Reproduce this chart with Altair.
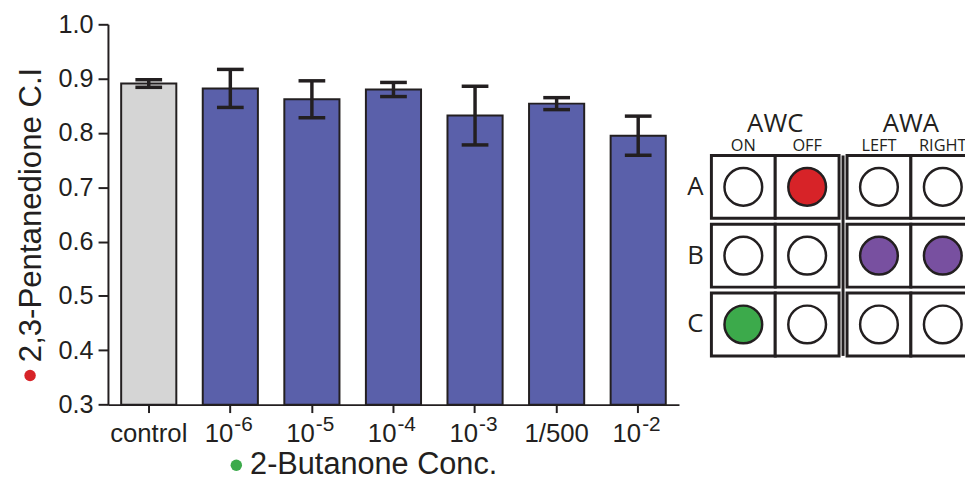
import altair as alt
import pandas as pd

# ---------------- data ----------------
categories = ["control", "10^-6", "10^-5", "10^-4", "10^-3", "1/500", "10^-2"]
label_base = ["control", "10", "10", "10", "10", "1/500", "10"]
label_sup = ["", "-6", "-5", "-4", "-3", "", "-2"]
group_kind = ["control", "odor", "odor", "odor", "odor", "odor", "odor"]
mean_ci = [0.891, 0.882, 0.862, 0.880, 0.832, 0.854, 0.795]
err_ci = [0.007, 0.035, 0.034, 0.013, 0.054, 0.011, 0.036]
y_ticks = [0.3, 0.4, 0.5, 0.6, 0.7, 0.8, 0.9, 1.0]

rows = ["A", "B", "C"]
cols = ["ON", "OFF", "LEFT", "RIGHT"]
neurons = ["AWC", "AWA"]
cell_state = [
    ["none", "red", "none", "none"],
    ["none", "none", "purple", "purple"],
    ["green", "none", "none", "none"],
]

# ---------------- style ----------------
ink = "#231f20"
palette = {"none": "#ffffff", "red": "#d72328", "purple": "#7850a0", "green": "#3caa4b"}
bar_gray = "#d5d5d5"
bar_blue = "#5a60aa"
sans = "Liberation Sans"
panel_font = "Open Sans"

df = pd.DataFrame({
    "cat": categories,
    "base": label_base,
    "sup": label_sup,
    "kind": group_kind,
    "mean": mean_ci,
    "err": err_ci,
})
df["lo"] = df["mean"] - df["err"]
df["hi"] = df["mean"] + df["err"]

W, H = 577, 384.3

x_enc = alt.X(
    "cat:N", sort=categories,
    scale=alt.Scale(paddingInner=0.324, paddingOuter=0.162),
    axis=alt.Axis(
        labels=False, ticks=True, tickSize=8, tickWidth=2, tickColor=ink,
        domainColor=ink, domainWidth=2,
        title="2-Butanone Conc.", titleFont=sans, titleFontSize=31,
        titleFontWeight="normal", titleColor=ink, titleX=268, titleY=70,
        titleAlign="center", titleBaseline="alphabetic",
    ),
)
y_scale = alt.Scale(domain=[0.3, 1.0], nice=False, zero=False)

base = alt.Chart(df)

bars = base.mark_bar(stroke=ink, strokeWidth=2).encode(
    x=x_enc,
    y=alt.Y(
        "mean:Q", scale=y_scale,
        axis=alt.Axis(
            values=y_ticks, format=".1f", labelFont=sans, labelFontSize=25.5,
            labelColor=ink, labelPadding=5, tickSize=10, tickWidth=2, tickColor=ink,
            domainColor=ink, domainWidth=2, grid=False,
            title="2,3-Pentanedione C.I", titleFont=sans, titleFontSize=31.5,
            titleFontWeight="normal", titleColor=ink, titlePadding=11,
        ),
    ),
    y2=alt.datum(0.3),
    color=alt.Color("kind:N", scale=alt.Scale(domain=["control", "odor"], range=[bar_gray, bar_blue]), legend=None),
)

err_line = base.mark_rule(color=ink, strokeWidth=3.5).encode(
    x=alt.X("cat:N", sort=categories), y=alt.Y("lo:Q", scale=y_scale), y2="hi:Q"
)
cap_lo = base.mark_tick(color=ink, size=27, thickness=3.5, opacity=1).encode(
    x=alt.X("cat:N", sort=categories), y=alt.Y("lo:Q", scale=y_scale)
)
cap_hi = base.mark_tick(color=ink, size=27, thickness=3.5, opacity=1).encode(
    x=alt.X("cat:N", sort=categories), y=alt.Y("hi:Q", scale=y_scale)
)

lab_plain = base.transform_filter("datum.sup == ''").mark_text(
    font=sans, fontSize=26, color=ink, align="center", baseline="alphabetic"
).encode(x=alt.X("cat:N", sort=categories), y=alt.value(421.6), text="base:N")
lab_ten = base.transform_filter("datum.sup != ''").mark_text(
    font=sans, fontSize=26, color=ink, align="right", baseline="alphabetic", dx=3
).encode(x=alt.X("cat:N", sort=categories), y=alt.value(421.6), text="base:N")
lab_sup = base.transform_filter("datum.sup != ''").mark_text(
    font=sans, fontSize=21, color=ink, align="left", baseline="alphabetic", dx=4
).encode(x=alt.X("cat:N", sort=categories), y=alt.value(410.6), text="sup:N")

one = alt.Chart(pd.DataFrame({"k": [0]}))
red_dot = one.mark_circle(color=palette["red"], size=133, opacity=1).encode(
    x=alt.value(-78.7), y=alt.value(354.8)
)
green_dot = one.mark_circle(color=palette["green"], size=133, opacity=1).encode(
    x=alt.value(129.7), y=alt.value(445.5)
)

left = alt.layer(
    bars, err_line, cap_lo, cap_hi, lab_plain, lab_ten, lab_sup, red_dot, green_dot
).properties(width=W, height=H)

# ---------------- schematic panel ----------------
gap = 0.125       # extra space between the AWC and AWA boxes, in cell units
half_h = 0.457    # half cell height in row units
cells = []
for r, rname in enumerate(rows):
    for c, cname in enumerate(cols):
        xc = c + gap * (c // 2)
        cells.append({
            "row": rname, "col": cname, "xc": xc, "yc": r,
            "x1": xc - 0.5, "x2": xc + 0.5, "y1": r - half_h, "y2": r + half_h,
            "fill": palette[cell_state[r][c]],
        })
cells = pd.DataFrame(cells)

PW = 283
px_per_x = 64.5
px_per_y = 69.5
x0 = -(749 - 690) / px_per_x
y0 = -(187 - 22.7) / px_per_y
sx = alt.Scale(domain=[x0, x0 + PW / px_per_x], nice=False, zero=False)
sy = alt.Scale(domain=[y0, y0 + H / px_per_y], nice=False, zero=False, reverse=True)

cbase = alt.Chart(cells)
rects = cbase.mark_rect(fill="#ffffff", stroke=ink, strokeWidth=3, clip=True).encode(
    x=alt.X("x1:Q", scale=sx, axis=None), x2="x2:Q",
    y=alt.Y("y1:Q", scale=sy, axis=None), y2="y2:Q",
)
dots = cbase.mark_point(shape="circle", filled=True, size=1452, stroke=ink,
                        strokeWidth=2.5, opacity=1, clip=True).encode(
    x=alt.X("xc:Q", scale=sx, axis=None),
    y=alt.Y("yc:Q", scale=sy, axis=None),
    fill=alt.Fill("fill:N", scale=None),
)
sep = alt.Chart(pd.DataFrame({"xs": [1.5 + gap / 2], "ya": [-half_h], "yb": [len(rows) - 1 + half_h]})).mark_rule(
    color=ink, strokeWidth=3
).encode(x=alt.X("xs:Q", scale=sx, axis=None), y=alt.Y("ya:Q", scale=sy, axis=None), y2="yb:Q")

row_lab = alt.Chart(pd.DataFrame({"t": rows, "yc": list(range(len(rows))), "xl": [-0.75] * len(rows)})).mark_text(
    font=panel_font, fontSize=26, color=ink, align="center", baseline="middle"
).encode(x=alt.X("xl:Q", scale=sx, axis=None), y=alt.Y("yc:Q", scale=sy, axis=None), text="t:N")

col_lab = alt.Chart(pd.DataFrame({
    "t": cols, "xc": [c + gap * (c // 2) for c in range(len(cols))], "yh": [-0.597] * len(cols)
})).mark_text(font=panel_font, fontSize=16.5, color=ink, align="center", baseline="middle", clip=True).encode(
    x=alt.X("xc:Q", scale=sx, axis=None), y=alt.Y("yh:Q", scale=sy, axis=None), text="t:N"
)
grp_lab = alt.Chart(pd.DataFrame({
    "t": neurons, "xg": [0.5 + g * (2 + gap) for g in range(len(neurons))], "yh": [-0.92] * len(neurons)
})).mark_text(font=panel_font, fontSize=26, color=ink, align="center", baseline="middle", clip=True).encode(
    x=alt.X("xg:Q", scale=sx, axis=None), y=alt.Y("yh:Q", scale=sy, axis=None), text="t:N"
)

right = alt.layer(rects, sep, dots, row_lab, col_lab, grp_lab).properties(width=PW, height=H)

chart = alt.hconcat(left, right, spacing=6).properties(
    padding={"left": 7, "top": 2, "right": 0, "bottom": 0}
).configure_view(stroke=None)

chart.save("out.html", embed_options={"renderer": "svg", "actions": False})
